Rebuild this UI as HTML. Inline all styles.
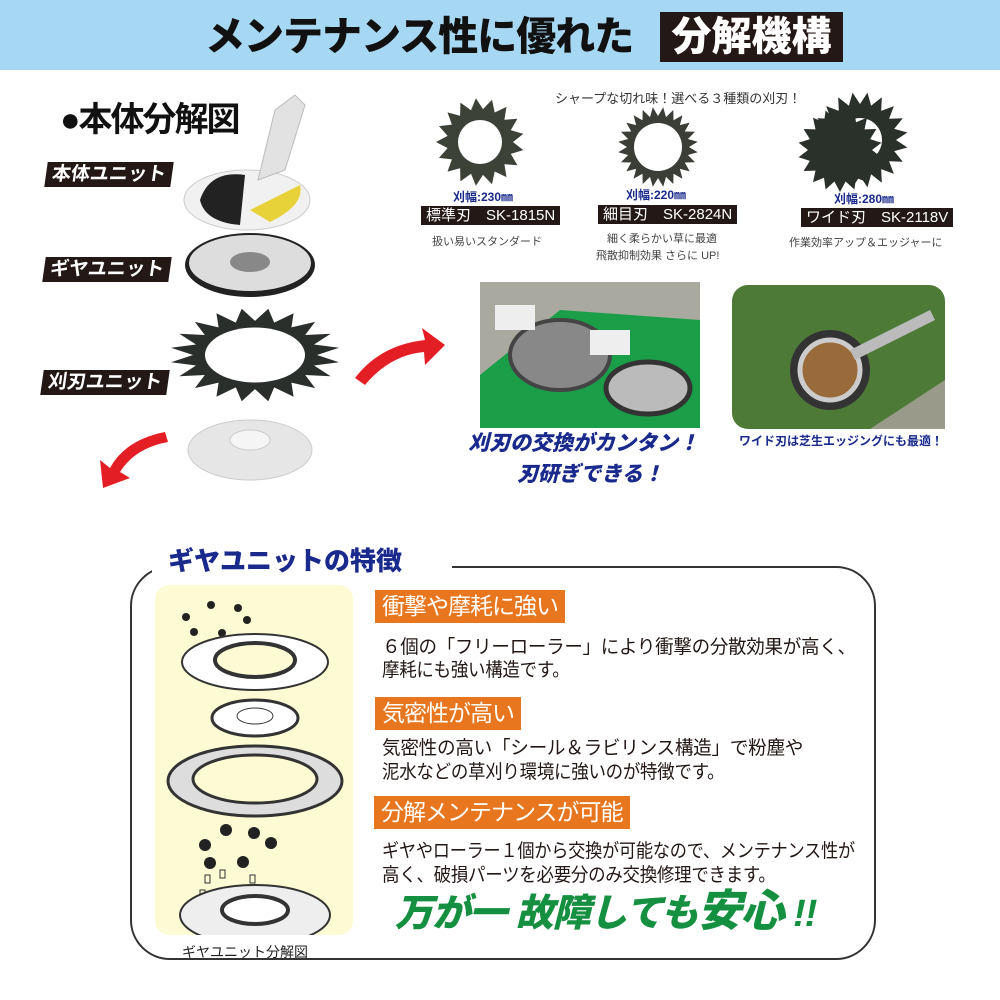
<!DOCTYPE html>
<html><head><meta charset="utf-8"><style>
body{margin:0;width:1000px;height:1000px;position:relative;background:#fff;font-family:"Liberation Sans","Noto Sans CJK JP",sans-serif;overflow:hidden}
.a{position:absolute;white-space:nowrap}
.lbl{position:absolute;background:#231815;color:#fff;font-weight:bold;font-size:19px;line-height:25px;padding:0 6px;transform:skewX(-8deg)}
.oh{position:absolute;background:#e8761e;color:#fff;font-size:23px;line-height:33px;padding:0 7px;white-space:nowrap;letter-spacing:-1px}
.bt{position:absolute;font-size:19px;color:#231815;line-height:25px;white-space:nowrap;letter-spacing:-0.3px;transform-origin:left;transform:scaleX(.92)}
.sm{position:absolute;font-size:11px;color:#444;white-space:nowrap;text-align:center}
.blk{position:absolute;background:#231815;color:#fff;font-size:15px;line-height:19px;padding:0 5px;white-space:nowrap}
.nv{position:absolute;color:#1a2a8c;font-size:12px;font-weight:bold;white-space:nowrap}
</style></head><body>
<div class="a" style="left:0;top:0;width:1000px;height:70px;background:#a6d8f3"></div>
<div class="a" style="left:205px;top:12px;font-size:40px;font-weight:900;color:#111;line-height:50px;letter-spacing:-1px">メンテナンス性に優れた</div>
<div class="a" style="left:660px;top:12px;width:183px;height:50px;background:#231815;color:#fff;font-size:40px;font-weight:900;line-height:50px;text-align:center">分解機構</div>

<div class="a" style="left:60px;top:100px;font-size:34px;line-height:40px;color:#111;font-weight:bold;letter-spacing:-2px">●本体分解図</div>
<div class="lbl" style="left:46px;top:162px">本体ユニット</div>
<div class="lbl" style="left:44px;top:257px">ギヤユニット</div>
<div class="lbl" style="left:42px;top:370px">刈刃ユニット</div>

<svg class="a" style="left:0;top:0" width="1000" height="540" id="sv">
<ellipse cx="247" cy="200" rx="63" ry="30" fill="#f1f1f1" stroke="#ccc"/>
<path d="M200 200 Q210 170 245 175 L240 225 Q205 222 200 200Z" fill="#222"/>
<path d="M250 210 L300 185 Q305 205 270 222Z" fill="#e8d23a"/>
<path d="M258 180 L275 110 L295 95 L305 105 L285 170 Z" fill="#e2e2e2" stroke="#bbb"/>
<ellipse cx="250" cy="265" rx="65" ry="32" fill="#222"/>
<ellipse cx="250" cy="263" rx="61" ry="28" fill="#ddd"/>
<ellipse cx="250" cy="262" rx="20" ry="10" fill="#888"/>
<ellipse cx="250" cy="450" rx="62" ry="30" fill="#e6e6e6" stroke="#ccc"/>
<ellipse cx="250" cy="440" rx="20" ry="10" fill="#f5f5f5" stroke="#ccc"/>
<path d="M355 378 Q380 345 425 340 L422 328 L445 345 L425 365 L424 352 Q390 355 365 385Z" fill="#e31e24"/>
<path d="M165 432 Q125 440 110 468 L100 460 L103 488 L130 478 L120 472 Q135 448 168 442Z" fill="#e31e24"/>
<rect x="480" y="282" width="220" height="146" fill="#a9a9a0"/>
<path d="M480 375 L560 310 L700 320 L700 428 L480 428Z" fill="#1b9e48"/>
<ellipse cx="560" cy="355" rx="50" ry="35" fill="#888" stroke="#444" stroke-width="4"/>
<ellipse cx="648" cy="388" rx="42" ry="26" fill="#bbb" stroke="#333" stroke-width="5"/>
<rect x="495" y="305" width="40" height="25" fill="#eee"/><rect x="590" y="330" width="40" height="25" fill="#eee"/>
<rect x="732" y="285" width="213" height="144" rx="16" fill="#4e7a38"/>
<path d="M870 429 L945 380 L945 429Z" fill="#9a9a8a"/>
<circle cx="830" cy="370" r="40" fill="#333"/><circle cx="830" cy="370" r="30" fill="#9a6b3a" stroke="#ccc" stroke-width="5"/>
<path d="M850 350 L930 310 L935 320 L855 360Z" fill="#bbb"/>
</svg>

<div class="a" style="left:555px;top:88px;font-size:13px;color:#333">シャープな切れ味！選べる３種類の刈刃！</div>
<div class="nv" style="left:453px;top:188px">刈幅:230㎜</div>
<div class="blk" style="left:421px;top:206px">標準刃　SK-1815N</div>
<div class="sm" style="left:432px;top:233px">扱い易いスタンダード</div>
<div class="nv" style="left:626px;top:186px">刈幅:220㎜</div>
<div class="blk" style="left:598px;top:205px">細目刃　SK-2824N</div>
<div class="sm" style="left:607px;top:230px">細く柔らかい草に最適</div>
<div class="sm" style="left:596px;top:247px">飛散抑制効果 さらに UP!</div>
<div class="nv" style="left:834px;top:190px">刈幅:280㎜</div>
<div class="blk" style="left:801px;top:208px">ワイド刃　SK-2118V</div>
<div class="sm" style="left:789px;top:234px">作業効率アップ＆エッジャーに</div>

<div class="a" style="left:468px;top:427px;font-size:21px;font-weight:900;font-style:italic;color:#1a2a8c">刈刃の交換がカンタン！</div>
<div class="a" style="left:517px;top:458px;font-size:21px;font-weight:900;font-style:italic;color:#1a2a8c">刃研ぎできる！</div>
<div class="a" style="left:739px;top:432px;font-size:12px;font-weight:bold;color:#1a2a8c">ワイド刃は芝生エッジングにも最適！</div>

<div class="a" style="left:130px;top:566px;width:742px;height:390px;border:2px solid #333;border-radius:40px"></div>
<div class="a" style="left:152px;top:545px;width:300px;height:40px;background:#fff"></div>
<div class="a" style="left:168px;top:543px;font-size:26px;font-weight:900;color:#1a2a8c;line-height:36px">ギヤユニットの特徴</div>
<div class="a" style="left:155px;top:585px;width:198px;height:350px;background:#fdfbd3;border-radius:14px"></div>
<svg class="a" style="left:155px;top:585px" width="198" height="350">
<g fill="#222"><circle cx="56" cy="20" r="4"/><circle cx="83" cy="23" r="4"/><circle cx="31" cy="32" r="4"/><circle cx="92" cy="35" r="4"/><circle cx="39" cy="47" r="4"/><circle cx="67" cy="48" r="4"/></g>
<ellipse cx="100" cy="77" rx="73" ry="28" fill="#fff" stroke="#333" stroke-width="2"/>
<ellipse cx="100" cy="75" rx="40" ry="17" fill="#fdfbd3" stroke="#333" stroke-width="4"/>
<ellipse cx="100" cy="133" rx="43" ry="18" fill="#fff" stroke="#333" stroke-width="3"/>
<ellipse cx="100" cy="131" rx="18" ry="8" fill="none" stroke="#333"/>
<ellipse cx="100" cy="196" rx="87" ry="35" fill="#ddd" stroke="#333" stroke-width="3"/>
<ellipse cx="100" cy="194" rx="62" ry="24" fill="#fdfbd3" stroke="#333" stroke-width="3"/>
<g fill="#222"><circle cx="71" cy="245" r="6"/><circle cx="99" cy="248" r="6"/><circle cx="50" cy="260" r="6"/><circle cx="116" cy="258" r="6"/><circle cx="55" cy="278" r="6"/><circle cx="88" cy="277" r="6"/></g>
<g fill="none" stroke="#333"><rect x="50" y="290" width="5" height="8"/><rect x="65" y="285" width="5" height="8"/><rect x="95" y="290" width="5" height="8"/><rect x="45" y="305" width="5" height="8"/><rect x="110" y="305" width="5" height="8"/><rect x="60" y="312" width="5" height="8"/><rect x="80" y="312" width="5" height="8"/><rect x="102" y="312" width="5" height="8"/></g>
<ellipse cx="100" cy="330" rx="75" ry="30" fill="#eee" stroke="#333" stroke-width="2"/>
<ellipse cx="100" cy="325" rx="33" ry="14" fill="#fff" stroke="#333" stroke-width="4"/>
</svg>
<div class="a" style="left:182px;top:942px;font-size:14px;color:#222">ギヤユニット分解図</div>

<div class="oh" style="left:375px;top:590px">衝撃や摩耗に強い</div>
<div class="bt" style="left:382px;top:635px;transform:scaleX(.975)">６個の「フリーローラー」により衝撃の分散効果が高く、</div>
<div class="bt" style="left:382px;top:658px">摩耗にも強い構造です。</div>
<div class="oh" style="left:375px;top:697px">気密性が高い</div>
<div class="bt" style="left:382px;top:736px;transform:scaleX(.98)">気密性の高い「シール＆ラビリンス構造」で粉塵や</div>
<div class="bt" style="left:382px;top:760px">泥水などの草刈り環境に強いのが特徴です。</div>
<div class="oh" style="left:374px;top:796px">分解メンテナンスが可能</div>
<div class="bt" style="left:382px;top:839px;transform:scaleX(.905)">ギヤやローラー１個から交換が可能なので、メンテナンス性が</div>
<div class="bt" style="left:382px;top:863px">高く、破損パーツを必要分のみ交換修理できます。</div>
<div class="a" style="left:395px;top:888px;font-size:38px;font-weight:900;font-style:italic;color:#159040;line-height:48px;letter-spacing:-1px">万が一 故障しても<span style="font-size:44px">安心</span> !!</div>

<script>
function gear(cx,cy,r1,r2,n,sy,fill,inner){
 let p=[];for(let i=0;i<n*2;i++){let a=Math.PI*i/n,r=i%2?r1:r2;p.push((cx+r*Math.cos(a)).toFixed(1)+','+(cy+r*Math.sin(a)*sy).toFixed(1));}
 let s='<polygon points="'+p.join(' ')+'" fill="'+fill+'"/>';
 if(inner)s+='<ellipse cx="'+cx+'" cy="'+cy+'" rx="'+inner+'" ry="'+(inner*sy)+'" fill="#fff"/>';
 return s;}
let sv=document.getElementById('sv');
sv.insertAdjacentHTML('beforeend',
 gear(255,355,85,62,20,0.55,'#2b2f2c',50)+
 gear(480,142,44,33,17,1,'#3d4238',22)+
 gear(658,147,40,31,24,1,'#3a3e36',24)+
 gear(860,140,48,36,20,1,'#2a302a',22)+
 gear(840,150,42,32,18,1,'#2a302a',0));
</script>
</body></html>
